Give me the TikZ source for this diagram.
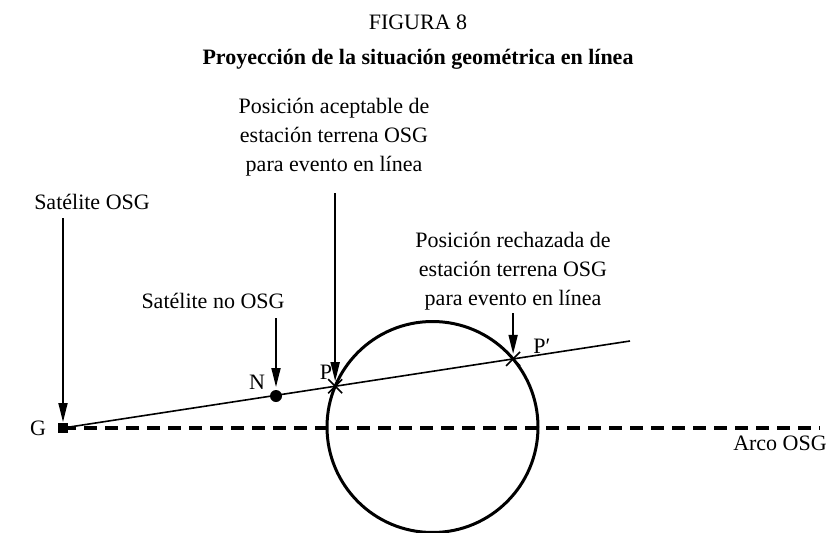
\documentclass[tikz,border=0pt]{standalone}
\usepackage{fontspec}
\setmainfont{Liberation Serif}
\usetikzlibrary{arrows.meta,intersections,calc}
\begin{document}
\begin{tikzpicture}[x=1pt,y=-1pt,
  lbl/.style={font=\fontsize{22}{29}\selectfont, inner sep=0pt, align=center},
  pointer/.style={line width=1.8pt, -{Triangle[length=19pt,width=9pt]}},
  crossmark/.style={line width=1.6pt}]
\useasboundingbox (0,0) rectangle (836,533);
% titles
\node[lbl] (fig) at (418,22) {FIGURA 8};
\node[lbl,font=\fontsize{22}{29}\selectfont\bfseries] (title) at (418,59) {Proyección de la situación geométrica en línea};
% base geometry
\coordinate (G) at (63,428);
\coordinate (arcend) at (820,428);
\coordinate (lineend) at (630,341);
\draw[line width=3.4pt, dash pattern=on 13pt off 8pt] (G) -- (arcend);
\draw[line width=3pt, name path=circ] (432.5,427) circle[radius=105.5];
\draw[line width=1.6pt, name path=ray] (G) -- (lineend);
\path[name intersections={of=circ and ray, name=X, sort by=ray}];
\coordinate (P) at (X-1);
\coordinate (Pp) at (X-2);
% crosses
\draw[crossmark] ($(P)+(-7,-7)$) -- ($(P)+(7,7)$) ($(P)+(-7,7)$) -- ($(P)+(7,-7)$);
\draw[crossmark] ($(Pp)+(-7,-7)$) -- ($(Pp)+(7,7)$) ($(Pp)+(-7,7)$) -- ($(Pp)+(7,-7)$);
% G square and N dot
\fill (G) ++(-5,-5) rectangle ++(10,10);
\coordinate (N) at (276,396);
\fill (N) circle[radius=6];
% labels
\node[lbl] (Glbl) at (38,428) {G};
\node[lbl] (Nlbl) at (257,382) {N};
\node[lbl] (Plbl) at (326,372) {P};
\node[lbl] (Pplbl) at (542,346) {P′};
\node[lbl] (arco) at (780,443) {Arco OSG};
\node[lbl] (satosg) at (92,202) {Satélite OSG};
\node[lbl] (satno) at (213,301) {Satélite no OSG};
\node[lbl] (acept) at (334,137) {Posición aceptable de\\estación terrena OSG\\para evento en línea};
\node[lbl] (rech) at (513,271) {Posición rechazada de\\estación terrena OSG\\para evento en línea};
% pointers
\coordinate (Gtop) at ($(G)+(0,-6)$);
\coordinate (Ntop) at ($(N)+(0,-9)$);
\coordinate (Ptop) at ($(P)+(0,-5)$);
\coordinate (Pptop) at ($(Pp)+(0,-5)$);
\draw[pointer] (Gtop |- 0,218) -- (Gtop);
\draw[pointer] (Ntop |- 0,318) -- (Ntop);
\draw[pointer] (Ptop |- 0,193) -- (Ptop);
\draw[pointer] (Pptop |- 0,313) -- (Pptop);
\end{tikzpicture}
\end{document}
